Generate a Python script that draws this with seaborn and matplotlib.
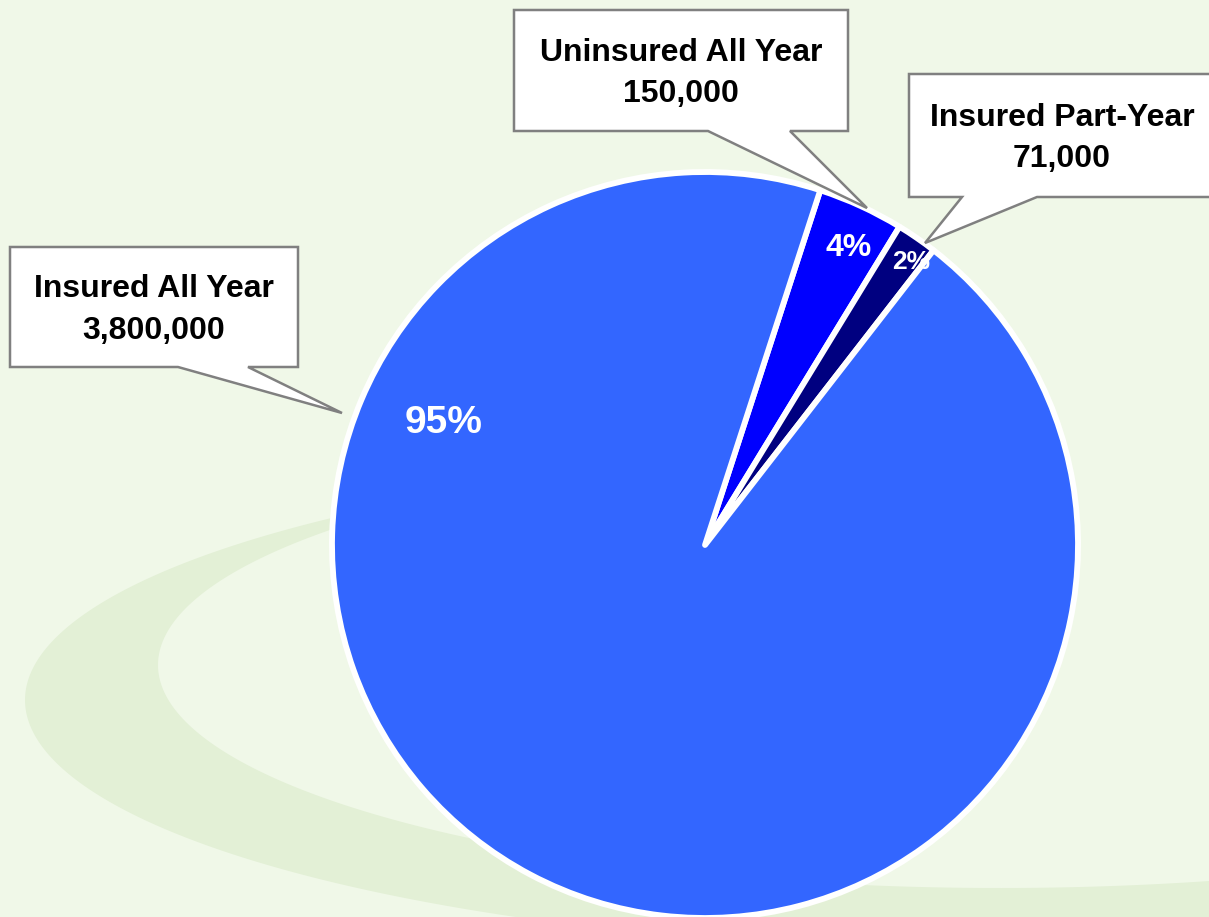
import numpy as np
import seaborn as sns
import matplotlib.pyplot as plt
from matplotlib.patches import Polygon

# data
categories = ["Uninsured All Year", "Insured Part-Year", "Insured All Year"]
counts = [150000, 71000, 3800000]
count_labels = ["150,000", "71,000", "3,800,000"]
colors = ["#0000FF", "#000080", "#3366FF"]

sns.set_style("white")
plt.rcParams['font.family'] = ['Liberation Sans', 'DejaVu Sans']

W, H = 1209, 917
fig = plt.figure(figsize=(W / 100, H / 100), dpi=100)
fig.patch.set_facecolor("#F0F8E8")

# background swoosh, pixel coordinates
bg = fig.add_axes([0, 0, 1, 1], zorder=0)
bg.set_xlim(0, W)
bg.set_ylim(H, 0)
bg.axis("off")
t_out = np.linspace(np.radians(110), np.radians(305), 250)
outer = np.column_stack([1000 + 975 * np.cos(t_out), 700 - 250 * np.sin(t_out)])
t_in = np.linspace(np.radians(305), np.radians(112), 250)
inner = np.column_stack([1000 + 842 * np.cos(t_in), 665 - 223 * np.sin(t_in)])
bg.add_patch(Polygon(np.vstack([outer, inner]), closed=True,
                     facecolor="#E3F0D6", edgecolor="none"))

# pie
cx, cy, r = 705, 545, 373
ax = fig.add_axes([(cx - r) / W, (H - cy - r) / H, 2 * r / W, 2 * r / H], zorder=1)
wedges, _ = ax.pie(counts, colors=colors, startangle=72, counterclock=False,
                   wedgeprops=dict(edgecolor="white", linewidth=4.2,
                                   joinstyle="round"))
ax.set_xlim(-1, 1)
ax.set_ylim(-1, 1)
ax.set_aspect("equal")

total = sum(counts)
pcts = [f"{100 * c / total:.0f}%" for c in counts]
# small slices: label along the wedge middle; big slice label upper left
label_r = [0.885, 0.94]
label_size = [23, 19]
label_shift = [-1, -1.5]
for w, p, rr, fs, sh in zip(wedges[:2], pcts[:2], label_r, label_size, label_shift):
    mid = np.radians((w.theta1 + w.theta2) / 2 + sh)
    ax.text(rr * np.cos(mid), rr * np.sin(mid), p, ha="center", va="center",
            color="white", fontsize=fs, fontweight="bold")
ax.text(-0.70, 0.327, pcts[2], ha="center", va="center", color="white",
        fontsize=28, fontweight="bold")

# callout boxes
ov = fig.add_axes([0, 0, 1, 1], zorder=2)
ov.set_xlim(0, W)
ov.set_ylim(H, 0)
ov.axis("off")
ov.patch.set_alpha(0)

boxes = [
    # left, top, right, bottom, pointer base x1, x2, tip
    (514, 10, 848, 131, 708, 790, (867, 208)),
    (909, 74, 1212, 197, 962, 1037, (925, 243)),
    (10, 247, 298, 367, 178, 248, (342, 413)),
]
for (l, t, rgt, b, p1, p2, tip), cat, cl in zip(boxes, categories, count_labels):
    shape = [(l, t), (rgt, t), (rgt, b), (p2, b), tip, (p1, b), (l, b)]
    ov.add_patch(Polygon(shape, closed=True, facecolor="white",
                         edgecolor="#808080", linewidth=1.8))
    ov.text((l + min(rgt, W)) / 2 + (3 if rgt > W else 0), (t + b) / 2 + 3, f"{cat}\n{cl}",
            ha="center", va="center", fontsize=23, fontweight="bold",
            linespacing=1.5, color="black")

plt.savefig("out.png", dpi=100, facecolor=fig.get_facecolor())
